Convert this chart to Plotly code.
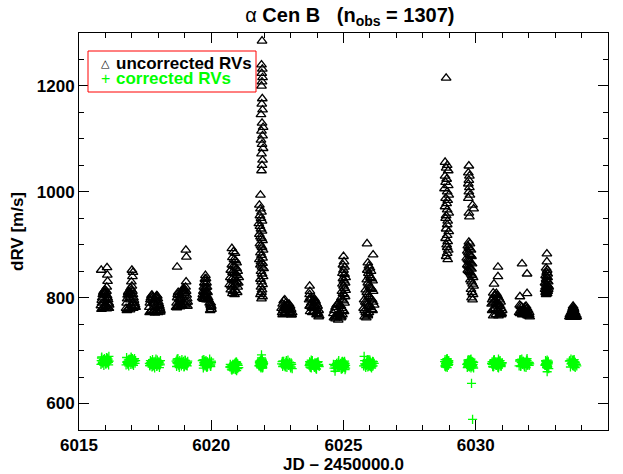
import plotly.graph_objects as go

# ---- data: per-night JD, uncorrected RV, corrected RV (m/s) ----
night01_jd = [6015.84, 6016.06, 6016.07, 6016.08, 6016.05, 6015.83, 6015.86, 6015.88, 6015.90, 6015.92, 6015.94, 6015.96, 6015.98, 6016.00, 6016.02, 6016.04, 6016.06, 6016.08, 6016.10, 6016.12, 6016.14, 6015.85, 6015.89, 6015.93, 6015.97, 6016.01, 6016.05, 6016.09, 6016.13, 6015.87, 6015.95, 6016.03, 6016.11]
night01_rv = [852, 857, 843, 831, 820, 785, 795, 800, 806, 810, 812, 808, 815, 810, 805, 812, 804, 800, 796, 790, 786, 778, 780, 782, 780, 784, 779, 781, 780, 790, 792, 795, 788]
night01_corr = [681, 676, 686, 679, 684, 674, 688, 680, 677, 683, 672, 685, 679, 681, 675, 687, 682, 678, 684, 673, 680, 686, 677, 682, 679, 675, 684, 681, 689, 676, 680, 683, 678]

night02_jd = [6017.00, 6017.04, 6017.02, 6016.98, 6016.95, 6016.78, 6016.80, 6016.82, 6016.84, 6016.86, 6016.88, 6016.90, 6016.92, 6016.94, 6016.96, 6016.98, 6017.00, 6017.02, 6017.04, 6017.06, 6017.08, 6017.10, 6017.12, 6017.14, 6016.81, 6016.85, 6016.89, 6016.93, 6016.97, 6017.01, 6017.05, 6017.09]
night02_rv = [852, 848, 840, 830, 818, 780, 790, 798, 805, 810, 812, 806, 800, 796, 808, 815, 822, 812, 806, 800, 795, 790, 786, 782, 776, 778, 781, 777, 785, 790, 780, 784]
night02_corr = [680, 675, 685, 678, 683, 673, 687, 679, 676, 682, 671, 684, 678, 680, 674, 686, 681, 677, 683, 672, 679, 685, 676, 681, 678, 674, 683, 680, 688, 675, 679, 682]

night03_jd = [6017.66, 6017.68, 6017.70, 6017.72, 6017.74, 6017.76, 6017.78, 6017.80, 6017.82, 6017.84, 6017.86, 6017.88, 6017.90, 6017.92, 6017.94, 6017.96, 6017.98, 6018.00, 6018.02, 6018.04, 6018.06, 6018.08, 6017.67, 6017.71, 6017.75, 6017.79, 6017.83, 6017.87, 6017.91, 6017.95, 6017.99, 6018.03, 6018.07]
night03_rv = [782, 790, 796, 800, 804, 805, 800, 794, 790, 788, 792, 796, 800, 802, 804, 803, 798, 792, 788, 784, 780, 776, 772, 774, 776, 773, 775, 771, 774, 776, 772, 775, 773]
night03_corr = [676, 671, 681, 674, 679, 669, 683, 675, 672, 678, 667, 680, 674, 676, 670, 682, 677, 673, 679, 668, 675, 681, 672, 677, 674, 670, 679, 676, 684, 671, 675, 678, 673]

night04_jd = [6019.04, 6019.06, 6018.71, 6019.05, 6018.67, 6018.69, 6018.71, 6018.73, 6018.75, 6018.77, 6018.79, 6018.81, 6018.83, 6018.85, 6018.87, 6018.89, 6018.91, 6018.93, 6018.95, 6018.97, 6018.99, 6019.01, 6019.03, 6019.05, 6019.07, 6019.09, 6019.11, 6018.70, 6018.74, 6018.78, 6018.82, 6018.86, 6018.90, 6018.94, 6018.98, 6019.02, 6019.06, 6019.10]
night04_rv = [890, 877, 858, 830, 782, 790, 800, 806, 810, 804, 798, 792, 796, 800, 804, 808, 812, 815, 818, 812, 808, 815, 820, 812, 805, 798, 792, 781, 784, 786, 783, 787, 785, 790, 788, 786, 791, 784]
night04_corr = [677, 672, 682, 675, 680, 670, 684, 676, 673, 679, 668, 681, 675, 677, 671, 683, 678, 674, 680, 669, 676, 682, 673, 678, 675, 671, 680, 677, 685, 672, 676, 679, 674, 678, 670, 681, 675, 677]

night05_jd = [6019.78, 6019.76, 6019.80, 6019.74, 6019.78, 6019.82, 6019.72, 6019.76, 6019.80, 6019.84, 6019.70, 6019.74, 6019.78, 6019.82, 6019.86, 6019.68, 6019.72, 6019.76, 6019.80, 6019.84, 6019.88, 6019.66, 6019.70, 6019.74, 6019.78, 6019.82, 6019.86, 6019.90, 6019.94, 6019.97, 6019.99, 6020.01, 6019.96, 6020.00, 6019.98]
night05_rv = [842, 835, 836, 828, 826, 828, 820, 818, 819, 820, 812, 810, 811, 812, 810, 806, 803, 804, 805, 803, 800, 800, 798, 797, 799, 796, 798, 796, 790, 786, 782, 778, 776, 784, 790]
night05_corr = [676, 671, 681, 674, 679, 669, 683, 675, 672, 678, 667, 680, 674, 676, 670, 682, 677, 673, 679, 668, 675, 681, 672, 677, 674, 670, 679, 676, 684, 671, 675, 678, 673, 680, 670]

night06_jd = [6020.78, 6020.84, 6020.90, 6020.80, 6020.86, 6020.92, 6020.96, 6020.78, 6020.84, 6020.90, 6020.96, 6021.00, 6020.74, 6020.80, 6020.86, 6020.92, 6020.98, 6021.04, 6020.72, 6020.78, 6020.84, 6020.90, 6020.96, 6021.02, 6020.70, 6020.76, 6020.82, 6020.88, 6020.94, 6021.00, 6020.74, 6020.82, 6020.90, 6020.98, 6020.80, 6020.88]
night06_rv = [893, 887, 884, 876, 872, 870, 866, 862, 860, 858, 855, 850, 852, 848, 846, 845, 842, 838, 838, 835, 832, 836, 830, 828, 825, 822, 820, 824, 826, 820, 815, 812, 814, 810, 808, 806]
night06_corr = [671, 666, 676, 669, 674, 664, 678, 670, 667, 673, 662, 675, 669, 671, 665, 677, 672, 668, 674, 663, 670, 676, 667, 672, 669, 665, 674, 671, 679, 666, 670, 673, 668, 675, 665, 672]

night07_jd = [6021.92, 6021.90, 6021.93, 6021.91, 6021.94, 6021.92, 6021.90, 6021.93, 6021.91, 6021.94,
              6021.88, 6021.92, 6021.96, 6021.90, 6021.94, 6021.88, 6021.92, 6021.96, 6021.90, 6021.94, 6021.92, 6021.90,
              6021.86,
              6021.82, 6021.86, 6021.90, 6021.84, 6021.88, 6021.92, 6021.80, 6021.84, 6021.88, 6021.92, 6021.82, 6021.86, 6021.90, 6021.94, 6021.84, 6021.88, 6021.92, 6021.96, 6021.86, 6021.90, 6021.94, 6021.82, 6021.88, 6021.94, 6021.86, 6021.92, 6021.98,
              6021.88, 6021.92, 6021.96, 6021.86, 6021.90, 6021.94, 6021.88, 6021.92, 6021.90, 6021.86, 6021.94, 6021.90]
night07_rv = [1285, 1240, 1232, 1224, 1216, 1208, 1200, 1176, 1166, 1155,
              1146, 1130, 1122, 1115, 1106, 1098, 1090, 1082, 1072, 1060, 1050, 1040,
              994,
              975, 968, 962, 955, 950, 945, 940, 935, 930, 926, 920, 915, 912, 908, 902, 898, 895, 890, 885, 880, 875, 872, 868, 865, 862, 858, 855,
              850, 845, 840, 835, 830, 825, 820, 815, 810, 806, 802, 798]
night07_corr = [676, 671, 681, 674, 679, 669, 683, 675, 672, 678, 667, 680, 674, 676, 670, 682, 677, 673, 679, 668, 675, 681, 672, 677, 674, 670, 679, 676, 684, 671, 675, 678, 673, 680, 670, 692, 676, 671, 681, 674, 679, 669, 683, 675, 672, 678, 667, 680, 674, 676, 670, 682, 677, 673, 679, 668, 675, 681, 672, 677, 674, 686]

night08_jd = [6022.66, 6022.70, 6022.74, 6022.78, 6022.82, 6022.86, 6022.90, 6022.94, 6022.98, 6023.02, 6023.06, 6022.68, 6022.72, 6022.76, 6022.80, 6022.84, 6022.88, 6022.92, 6022.96, 6023.00, 6023.04, 6022.70, 6022.78, 6022.86, 6022.94, 6023.02]
night08_rv = [780, 788, 794, 796, 790, 784, 786, 788, 784, 778, 772, 772, 776, 782, 784, 780, 778, 780, 776, 772, 768, 768, 770, 772, 770, 768]
night08_corr = [675, 670, 680, 673, 678, 668, 682, 674, 671, 677, 666, 679, 673, 675, 669, 681, 676, 672, 678, 667, 674, 680, 671, 676, 673, 669]

night09_jd = [6023.72, 6023.73, 6023.72, 6023.70, 6023.74, 6023.78, 6023.82, 6023.86, 6023.90, 6023.94, 6023.98, 6024.02, 6024.06, 6023.72, 6023.76, 6023.80, 6023.84, 6023.88, 6023.92, 6023.96, 6024.00, 6024.04, 6024.08, 6023.74, 6023.82, 6023.90, 6023.98, 6024.06, 6023.78, 6023.94]
night09_rv = [822, 812, 806, 796, 800, 798, 792, 795, 798, 794, 788, 784, 776, 784, 786, 782, 780, 784, 786, 780, 774, 770, 766, 774, 772, 775, 768, 764, 790, 792]
night09_corr = [674, 669, 679, 672, 677, 667, 681, 673, 670, 676, 665, 678, 672, 674, 668, 680, 675, 671, 677, 666, 673, 679, 670, 675, 672, 668, 677, 674, 682, 669]

night10_jd = [6025.00, 6025.02, 6024.98, 6025.04, 6025.00, 6024.96, 6025.04, 6025.08, 6024.98, 6025.02, 6025.06, 6024.96, 6025.00, 6025.04, 6025.08, 6024.94, 6024.98, 6025.02, 6025.06, 6024.92, 6024.96, 6025.00, 6025.04,
              6024.62, 6024.66, 6024.70, 6024.74, 6024.78, 6024.82, 6024.86, 6024.90, 6024.94, 6024.98, 6025.02,
              6024.64, 6024.68, 6024.72, 6024.76, 6024.80, 6024.84, 6024.88, 6024.92, 6024.96, 6024.70, 6024.80, 6024.90]
night10_rv = [878, 868, 862, 858, 852, 846, 844, 838, 836, 832, 828, 826, 822, 818, 814, 812, 808, 806, 802, 800, 796, 794, 790,
              770, 776, 782, 786, 788, 790, 786, 784, 780, 776, 774,
              762, 764, 766, 764, 768, 770, 766, 764, 768, 760, 758, 762]
night10_corr = [673, 668, 678, 671, 676, 666, 680, 672, 669, 675, 664, 677, 671, 673, 667, 679, 674, 670, 676, 665, 672, 678, 669, 674, 671, 667, 676, 673, 681, 668, 672, 675, 670, 677, 667, 661, 673, 668, 678, 671, 676, 666, 680, 672, 669, 675]

night11_jd = [6025.89, 6026.12, 6025.92, 6025.96, 6026.00, 6026.04, 6025.90, 6025.94, 6025.98, 6026.02, 6026.06, 6026.10, 6025.88, 6025.92, 6025.96, 6026.00, 6026.04, 6026.08, 6026.12, 6025.84, 6025.88, 6025.92, 6025.96, 6026.00, 6026.04, 6026.08, 6026.12, 6026.16, 6025.78, 6025.82, 6025.86, 6025.90, 6025.94, 6025.98, 6026.02, 6026.06, 6026.10, 6025.76, 6025.80, 6025.84, 6025.88, 6025.92, 6025.96, 6025.80, 6025.86, 6025.92]
night11_rv = [902, 881, 866, 860, 856, 850, 852, 846, 842, 838, 836, 832, 834, 828, 824, 820, 818, 816, 812, 815, 810, 806, 802, 800, 798, 796, 792, 786, 796, 792, 790, 788, 784, 786, 782, 778, 776, 780, 776, 772, 770, 768, 772, 764, 762, 766]
night11_corr = [676, 671, 681, 674, 679, 669, 683, 675, 672, 678, 667, 680, 674, 676, 670, 682, 677, 673, 679, 668, 675, 681, 672, 677, 674, 670, 679, 676, 689, 671, 675, 678, 673, 680, 670, 676, 676, 671, 681, 674, 679, 669, 683, 675, 672, 678]

night12_jd = [6028.88, 6028.84, 6028.92, 6028.88, 6028.96, 6028.84, 6028.90, 6028.86, 6028.96, 6028.82, 6028.92, 6028.98, 6028.86, 6028.94, 6028.90, 6028.84, 6028.92, 6028.98, 6028.88, 6028.86, 6028.94, 6028.92, 6028.88, 6028.98, 6028.92, 6028.86, 6028.94, 6028.90, 6028.92, 6028.96, 6028.92, 6028.88, 6028.94]
night12_rv = [1215, 1056, 1050, 1045, 1040, 1030, 1024, 1018, 1012, 1006, 1000, 994, 988, 984, 978, 972, 966, 960, 955, 950, 945, 938, 930, 925, 918, 912, 906, 900, 895, 890, 884, 878, 872]
night12_corr = [677, 672, 682, 675, 680, 670, 684, 676, 673, 679, 668, 681, 675, 677, 671, 683, 678, 674, 680, 669, 676, 682, 673, 678, 675, 671, 680, 677, 685, 672, 676, 679, 674]

night13_jd = [6029.74, 6029.72, 6029.76, 6029.74, 6029.72, 6029.76, 6029.74, 6029.78, 6029.72, 6029.88, 6029.92, 6029.74, 6029.76,
              6029.74, 6029.78, 6029.70, 6029.74, 6029.78, 6029.82, 6029.68, 6029.72, 6029.76, 6029.80, 6029.84, 6029.66, 6029.70, 6029.74, 6029.78, 6029.82, 6029.86, 6029.68, 6029.72, 6029.76, 6029.80, 6029.84, 6029.70, 6029.74, 6029.78,
              6029.82, 6029.86, 6029.90, 6029.80, 6029.84, 6029.88, 6029.92, 6029.82, 6029.86, 6029.90, 6029.84, 6029.88]
night13_rv = [1049, 1036, 1030, 1022, 1015, 1008, 1000, 994, 988, 975, 968, 960, 953,
              905, 902, 898, 895, 892, 890, 888, 885, 882, 880, 878, 875, 872, 870, 868, 866, 864, 862, 860, 858, 856, 854, 852, 850, 848,
              845, 842, 838, 834, 830, 826, 822, 816, 810, 806, 800, 796]
night13_corr = [676, 671, 681, 674, 679, 669, 683, 675, 672, 678, 667, 680, 674, 676, 670, 682, 677, 673, 679, 668, 675, 681, 672, 677, 674, 670, 679, 676, 684, 671, 675, 678, 673, 680, 670, 676, 671, 681, 674, 679, 669, 683, 675, 672, 678, 667, 680, 674, 638, 570]

night14_jd = [6030.84, 6030.84, 6030.69, 6030.66, 6030.62, 6030.66, 6030.70, 6030.74, 6030.78, 6030.82, 6030.86, 6030.90, 6030.94, 6030.60, 6030.64, 6030.68, 6030.72, 6030.76, 6030.80, 6030.84, 6030.88, 6030.92, 6030.96, 6031.00, 6030.62, 6030.68, 6030.74, 6030.80, 6030.86, 6030.92, 6030.98, 6030.66, 6030.76, 6030.86, 6030.96]
night14_rv = [858, 840, 826, 809, 796, 800, 804, 806, 808, 804, 800, 796, 792, 788, 790, 792, 794, 790, 788, 786, 788, 784, 780, 776, 776, 778, 780, 776, 774, 772, 770, 766, 768, 766, 768]
night14_corr = [676, 671, 681, 674, 679, 669, 683, 675, 672, 678, 667, 680, 674, 676, 670, 682, 677, 673, 679, 668, 675, 681, 672, 677, 674, 670, 679, 676, 684, 671, 675, 678, 673, 680, 670]

night15_jd = [6031.75, 6031.94, 6031.67, 6031.94, 6031.66, 6031.70, 6031.74, 6031.78, 6031.82, 6031.86, 6031.90, 6031.94, 6031.98, 6032.02, 6031.64, 6031.68, 6031.72, 6031.76, 6031.80, 6031.84, 6031.88, 6031.92, 6031.96, 6032.00, 6032.04, 6031.70, 6031.78, 6031.86, 6031.94, 6032.02]
night15_rv = [864, 845, 802, 808, 786, 784, 782, 778, 780, 782, 784, 780, 776, 772, 772, 770, 772, 768, 770, 772, 770, 768, 766, 766, 764, 776, 774, 776, 772, 768]
night15_corr = [677, 672, 682, 675, 680, 670, 684, 676, 673, 679, 668, 681, 675, 677, 671, 683, 678, 674, 680, 669, 676, 682, 673, 678, 675, 671, 680, 677, 685, 672]

night16_jd = [6032.69, 6032.69, 6032.66, 6032.70, 6032.68, 6032.72, 6032.64, 6032.68, 6032.72, 6032.66, 6032.70, 6032.74, 6032.62, 6032.66, 6032.70, 6032.74, 6032.64, 6032.68, 6032.72, 6032.76, 6032.62, 6032.66, 6032.70, 6032.74, 6032.64, 6032.68, 6032.72, 6032.66, 6032.70]
night16_rv = [883, 868, 856, 852, 848, 845, 842, 840, 838, 835, 832, 830, 828, 826, 824, 822, 820, 818, 822, 820, 816, 814, 812, 816, 810, 808, 812, 806, 808]
night16_corr = [674, 669, 679, 672, 677, 667, 681, 673, 670, 676, 660, 678, 672, 674, 668, 680, 675, 671, 677, 666, 673, 679, 670, 675, 672, 668, 677, 674, 682]

night17_jd = [6033.68, 6033.66, 6033.70, 6033.64, 6033.68, 6033.72, 6033.60, 6033.64, 6033.68, 6033.72, 6033.76, 6033.56, 6033.60, 6033.64, 6033.68, 6033.72, 6033.76, 6033.80, 6033.54, 6033.58, 6033.62, 6033.66, 6033.70, 6033.74, 6033.78, 6033.82]
night17_rv = [784, 780, 781, 776, 777, 778, 772, 773, 772, 774, 772, 768, 767, 768, 769, 768, 766, 767, 764, 763, 764, 763, 765, 764, 763, 764]
night17_corr = [677, 672, 682, 675, 680, 670, 684, 676, 673, 679, 668, 681, 675, 677, 671, 683, 678, 674, 680, 669, 676, 682, 673, 678, 675, 671]

x_ticks = [6015, 6020, 6025, 6030, 6035]
y_ticks = [600, 800, 1000, 1200]
series_names = ["uncorrected RVs", "corrected RVs"]
n_obs = 1307

nights = [
    (night01_jd, night01_rv, night01_corr), (night02_jd, night02_rv, night02_corr),
    (night03_jd, night03_rv, night03_corr), (night04_jd, night04_rv, night04_corr),
    (night05_jd, night05_rv, night05_corr), (night06_jd, night06_rv, night06_corr),
    (night07_jd, night07_rv, night07_corr), (night08_jd, night08_rv, night08_corr),
    (night09_jd, night09_rv, night09_corr), (night10_jd, night10_rv, night10_corr),
    (night11_jd, night11_rv, night11_corr), (night12_jd, night12_rv, night12_corr),
    (night13_jd, night13_rv, night13_corr), (night14_jd, night14_rv, night14_corr),
    (night15_jd, night15_rv, night15_corr), (night16_jd, night16_rv, night16_corr),
    (night17_jd, night17_rv, night17_corr),
]
jd, rv_unc, rv_cor = [], [], []
for i, (t, u, c) in enumerate(nights):
    n = min(len(t), len(u), len(c))
    jd += t[:n]
    rv_unc += u[:n]
    rv_cor += c[:n]

FONT = "Liberation Sans, Arial, Helvetica, sans-serif"
GREEN = "#00ff00"

fig = go.Figure()
fig.add_trace(go.Scatter(
    x=jd, y=rv_unc, mode="markers", name=series_names[0], showlegend=False,
    marker=dict(symbol="triangle-up-open", size=8.5, color="black",
                line=dict(color="black", width=1.3)),
))
fig.add_trace(go.Scatter(
    x=jd, y=rv_cor, mode="markers", name=series_names[1], showlegend=False,
    marker=dict(symbol="cross-thin", size=6.5, color=GREEN,
                line=dict(color=GREEN, width=1.3)),
))

axis_common = dict(
    showline=True, linecolor="black", linewidth=1, mirror="allticks",
    ticks="inside", ticklen=10, tickwidth=1, tickcolor="black",
    showgrid=False, zeroline=False,
    tickfont=dict(family=FONT, size=17, color="black", weight="bold"),
)

fig.update_xaxes(
    range=[6015, 6035], tickmode="array", tickvals=x_ticks,
    ticktext=[str(v) for v in x_ticks],
    minor=dict(dtick=1, ticklen=5, ticks="inside", tickcolor="black", tickwidth=1),
    title=dict(text="JD \u2013 2450000.0", standoff=3,
               font=dict(family=FONT, size=17, color="black", weight="bold")),
    **axis_common,
)
fig.update_yaxes(
    range=[550, 1300], tickmode="array", tickvals=y_ticks,
    ticktext=[str(v) for v in y_ticks],
    minor=dict(dtick=50, ticklen=5, ticks="inside", tickcolor="black", tickwidth=1),
    title=dict(text="dRV [m/s]", standoff=8,
               font=dict(family=FONT, size=17, color="black", weight="bold")),
    **axis_common,
)

# legend box (IDL-style text legend) in paper coordinates
PW, PH, L, T = 529.0, 397.0, 79.0, 33.0
def px(xp):
    return (xp - L) / PW
def py(yp):
    return 1 - (yp - T) / PH

fig.add_shape(type="rect", xref="paper", yref="paper",
              x0=px(88), x1=px(256), y0=py(92), y1=py(51),
              line=dict(color="red", width=1), fillcolor="white", layer="above")
fig.add_annotation(xref="paper", yref="paper", x=px(105), y=py(63),
                   text="\u25b3", showarrow=False, xanchor="center", yanchor="middle",
                   font=dict(family="DejaVu Sans", size=11, color="black"))
fig.add_annotation(xref="paper", yref="paper", x=px(114), y=py(63),
                   text=series_names[0], showarrow=False, xanchor="left", yanchor="middle",
                   font=dict(family=FONT, size=17, color="black", weight="bold"))
fig.add_annotation(xref="paper", yref="paper", x=px(105), y=py(79),
                   text="+", showarrow=False, xanchor="center", yanchor="middle",
                   font=dict(family=FONT, size=16, color=GREEN))
fig.add_annotation(xref="paper", yref="paper", x=px(114), y=py(79),
                   text=series_names[1], showarrow=False, xanchor="left", yanchor="middle",
                   font=dict(family=FONT, size=17, color=GREEN, weight="bold"))

fig.update_layout(
    width=623, height=474,
    margin=dict(l=79, r=15, t=33, b=44, autoexpand=False),
    paper_bgcolor="white", plot_bgcolor="white",
    title=dict(
        text="\u03b1 <b>Cen B\u00a0\u00a0\u00a0(n<sub>obs</sub> = %d)</b>" % n_obs,
        x=0.512, xref="paper", xanchor="center",
        y=1 - 15 / 474, yref="container", yanchor="middle",
        font=dict(family=FONT, size=20, color="black"),
    ),
    showlegend=False,
)

fig.write_html("out.html")
